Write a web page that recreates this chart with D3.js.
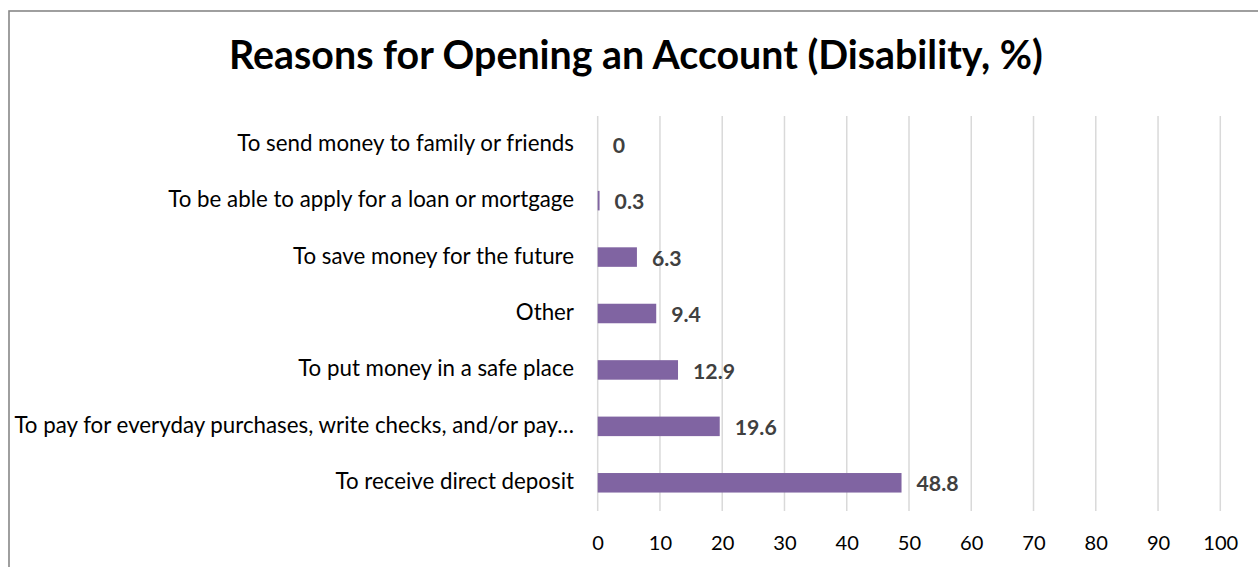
<!DOCTYPE html>
<html>
<head>
<meta charset="utf-8">
<script src="https://cdn.jsdelivr.net/npm/d3@7"></script>
<style>
  html, body { margin: 0; padding: 0; background: #fff; }
  svg { display: block; }
</style>
</head>
<body>
<svg id="chart" width="1258" height="567"></svg>
<script>
const titleText = "Reasons for Opening an Account (Disability, %)";
const categories = [
  "To send money to family or friends",
  "To be able to apply for a loan or mortgage",
  "To save money for the future",
  "Other",
  "To put money in a safe place",
  "To pay for everyday purchases, write checks, and/or pay\u2026",
  "To receive direct deposit"
];
const values = [0, 0.3, 6.3, 9.4, 12.9, 19.6, 48.8];
const tickValues = [0, 10, 20, 30, 40, 50, 60, 70, 80, 90, 100];

const FONT = "Lato, 'Open Sans', sans-serif";
const svg = d3.select("#chart");

// chart border
svg.append("rect")
  .attr("x", 9).attr("y", 11)
  .attr("width", 1270).attr("height", 600)
  .attr("fill", "#fff")
  .attr("stroke", "#878787")
  .attr("stroke-width", 1.6);

const x = d3.scaleLinear().domain([0, 100]).range([597.7, 1220.3]);
const y = d3.scaleBand().domain(categories).range([116, 511]).paddingInner(0.654).paddingOuter(0.327);

// helper: fit font size so text width matches target
function fitSize(text, weight, target, base) {
  const t = svg.append("text").attr("font-family", FONT).attr("font-weight", weight)
    .attr("font-size", base).text(text);
  const w = t.node().getComputedTextLength();
  t.remove();
  return base * target / w;
}
const catSize = fitSize(categories[0], "normal", 337, 20);
const tickSize = fitSize("100", "normal", 35, 20);
const valSize = fitSize("6.3", "bold", 29.7, 20);
const titleSize = fitSize(titleText, "bold", 814, 30);

// gridlines
const grid = svg.append("g");
grid.selectAll("line").data(tickValues).join("line")
  .attr("x1", d => x(d)).attr("x2", d => x(d))
  .attr("y1", 116).attr("y2", 511)
  .attr("stroke", "#d9d9d9").attr("stroke-width", 1.5);

// x axis tick labels
const xAxis = d3.axisBottom(x).tickValues(tickValues).tickSize(0).tickPadding(0);
const xg = svg.append("g").attr("transform", "translate(0,511)").call(xAxis);
xg.select(".domain").remove();
xg.selectAll("text")
  .attr("y", 39).attr("dy", 0)
  .attr("font-family", FONT).attr("font-size", tickSize)
  .attr("fill", "#000");

// y axis labels
const yAxis = d3.axisLeft(y).tickSize(0).tickPadding(0);
const yg = svg.append("g").attr("transform", "translate(574,0)").call(yAxis);
yg.select(".domain").remove();
yg.selectAll("text")
  .attr("x", 0).attr("dy", 0)
  .attr("y", 6.5)
  .attr("font-family", FONT).attr("font-size", catSize)
  .attr("fill", "#000");

// bars
const data = categories.map((c, i) => ({ c, v: values[i] }));
svg.append("g").selectAll("rect").data(data).join("rect")
  .attr("x", x(0))
  .attr("y", d => y(d.c))
  .attr("width", d => x(d.v) - x(0))
  .attr("height", y.bandwidth())
  .attr("fill", "#8064a2");

// value labels
svg.append("g").selectAll("text").data(data).join("text")
  .attr("x", d => x(d.v) + 15)
  .attr("y", d => y(d.c) + y.bandwidth() / 2 + 8.6)
  .attr("font-family", FONT).attr("font-weight", "bold")
  .attr("font-size", valSize)
  .attr("fill", "#404040")
  .text(d => d.v);

// title
svg.append("text")
  .attr("x", 636).attr("y", 69.3)
  .attr("text-anchor", "middle")
  .attr("font-family", FONT).attr("font-weight", "bold")
  .attr("font-size", titleSize)
  .attr("fill", "#000")
  .text(titleText);
</script>
</body>
</html>
